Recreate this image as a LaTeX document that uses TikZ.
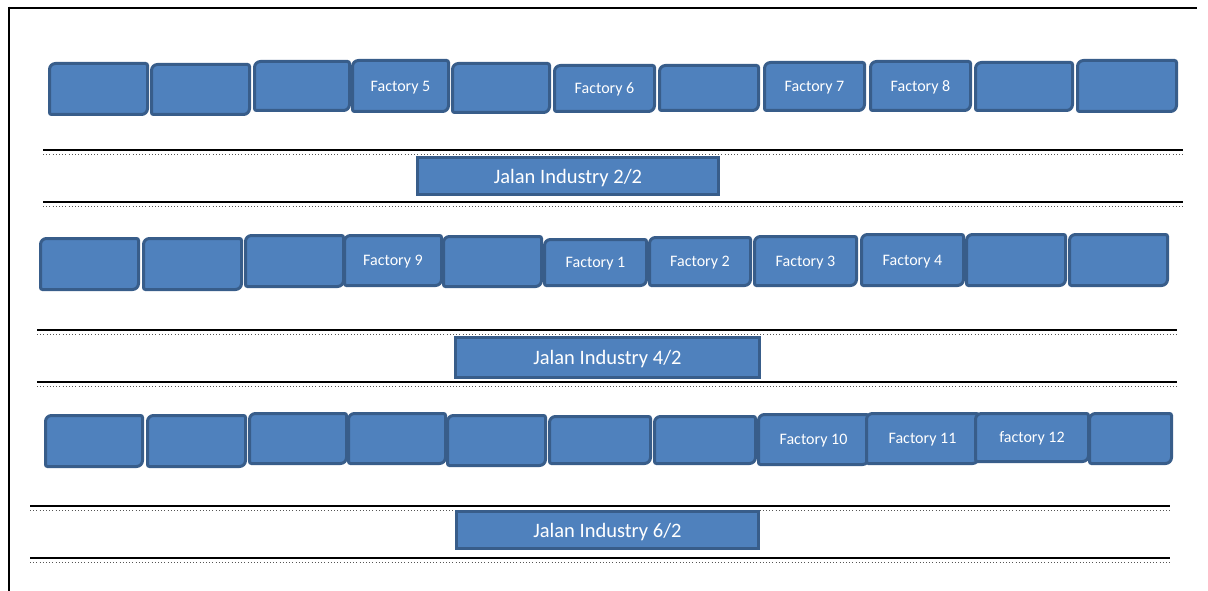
\documentclass[tikz,border=0pt]{standalone}
\usepackage{fontspec}
\setmainfont{Carlito}
\usetikzlibrary{positioning}
\definecolor{lotBlue}{HTML}{4F81BD}
\definecolor{lotEdge}{HTML}{385D8A}
\definecolor{kerbGrey}{HTML}{555555}

\begin{document}
\begin{tikzpicture}[x=1pt,y=-1pt]
  \tikzstyle{lotline}=[draw=lotEdge,fill=lotBlue,line width=3pt]
  \tikzstyle{lotlabel}=[inner sep=0pt,text depth=0pt,text=white,font=\fontsize{16}{18}\selectfont]
  \tikzstyle{roadbox}=[draw=lotEdge,fill=lotBlue,line width=3pt,inner sep=0pt,text depth=0pt,text=white,font=\fontsize{20.5}{24}\selectfont]
  \tikzstyle{kerb}=[line width=2pt,black]
  \tikzstyle{kerbdots}=[line width=1.2pt,kerbGrey,dash pattern=on 1pt off 2.2pt]
  \fill[white] (0,0) rectangle (1208,591);
  \useasboundingbox (0,0) rectangle (1208,591);
  % frame
  \draw[line width=2.5pt] (9,8) -- (1197,8);
  \draw[line width=2.5pt] (9,6.75) -- (9,591);
  % roads
  \foreach \ya/\yb/\xa/\xb in {150/202/43/1183,330/382/37/1177,506/558/30/1170}{
    \draw[kerb] (\xa,\ya) -- (\xb,\ya);
    \draw[kerbdots] (\xa,\ya+4.5) -- (\xb,\ya+4.5);
    \draw[kerb] (\xa,\yb) -- (\xb,\yb);
    \draw[kerbdots] (\xa,\yb+4.5) -- (\xb,\yb+4.5);
  }
  \node[roadbox,minimum width=301pt,minimum height=37pt] (road2) at (568,176) {Jalan Industry 2/2};
  \node[roadbox,minimum width=304pt,minimum height=40pt] (road4) at (607.5,357.5) {Jalan Industry 4/2};
  \node[roadbox,minimum width=302pt,minimum height=37pt] (road6) at (607.5,530) {Jalan Industry 6/2};
  % factory lots: big round top-left and bottom-right, small round the other two
  \foreach \n/\xa/\xb/\ya/\yb/\t in {
      a1/48/149/62/116/{},a2/150/251/63/116/{},a3/253/351/60/112/{},
      a4/351/450/59/113/Factory 5,a5/451/551/62/114/{},a6/553/656/64/113/Factory 6,
      a7/658/760/64/112/{},a8/763/866/61/112/Factory 7,a9/869/972/60/112/Factory 8,
      a10/974/1074/61/112/{},a11/1076/1178/59/113/{},
      b1/39/140/237/291/{},b2/142/243/237/291/{},b3/244/345/234/288/{},
      b4/343/443/234/287/Factory 9,b5/442/543/235/288/{},b6/543/648/238/287/Factory 1,
      b7/648/752/236/287/Factory 2,b8/753/858/235/287/Factory 3,b9/860/965/233/287/Factory 4,
      b10/965/1067/233/287/{},b11/1068/1169/233/287/{},
      c1/44/144/414/468/{},c2/146/247/414/468/{},c3/248/348/412/465/{},
      c4/347/447/412/465/{},c5/446/547/414/467/{},c6/548/652/415/465/{},
      c7/653/757/415/465/{},c11/1088/1173/412/465/{},c8/757/870/413/466/Factory 10,
      c9/865/980/412/465/Factory 11,c10/974/1090/412/463/factory 12}{
    \draw[lotline] (\xa+1.5,{(\ya+\yb)/2}) [rounded corners=6pt] -- (\xa+1.5,\ya+1.5)
      [rounded corners=2pt] -- (\xb-1.5,\ya+1.5) [rounded corners=6pt] -- (\xb-1.5,\yb-1.5)
      [rounded corners=2pt] -- (\xa+1.5,\yb-1.5) [sharp corners] -- cycle;
    \node[lotlabel] (\n) at ({(\xa+\xb)/2},{(\ya+\yb)/2}) {\t};
  }
\end{tikzpicture}
\end{document}
